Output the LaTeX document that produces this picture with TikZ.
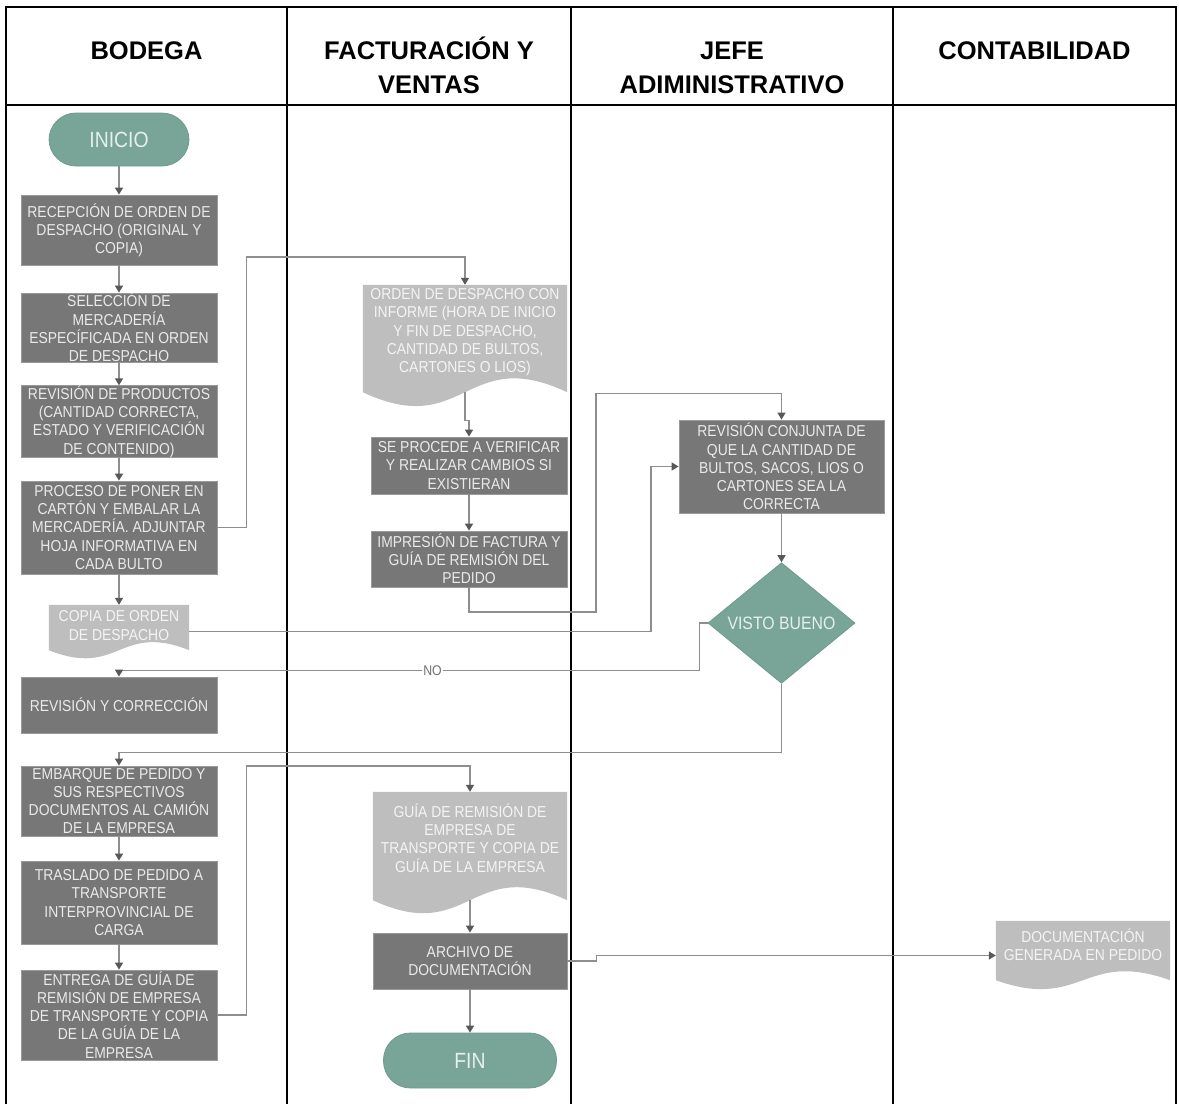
\documentclass[tikz,border=0pt]{standalone}
\usepackage{fontspec}
\setmainfont{Liberation Sans}
\newfontfamily\boxfont{Liberation Sans}[FakeStretch=0.88]
\usepackage{tikz}
\usetikzlibrary{shapes.geometric, arrows.meta, calc, backgrounds}

\definecolor{tealbox}{HTML}{78A597}
\definecolor{tealedge}{HTML}{6F9A8D}
\definecolor{tealtext}{HTML}{E6F0ED}
\definecolor{procgray}{HTML}{777777}
\definecolor{procedge}{HTML}{9A9A9A}
\definecolor{boxtext}{HTML}{EAEAEA}
\definecolor{docgray}{HTML}{BEBEBE}
\definecolor{doctext}{HTML}{F4F4F4}
\definecolor{linegray}{HTML}{8E8E8E}
\definecolor{tipgray}{HTML}{585858}
\definecolor{labelgray}{HTML}{707070}

\begin{document}
\begin{tikzpicture}[
    x=1pt, y=-1pt,
    lane/.style={line width=2.4pt, black},
    lanehead/.style={font=\fontsize{25.5}{34}\selectfont\bfseries, align=center, anchor=base, inner sep=0pt},
    proc/.style={draw=procedge, line width=0.8pt, fill=procgray, text=boxtext, font=\boxfont\fontsize{15.8}{18.2}\selectfont, align=center, inner sep=0pt, minimum width=196pt},
    term/.style={draw=tealedge, line width=0.8pt, fill=tealbox, text=tealtext, rounded corners=27pt, font=\boxfont\fontsize{22}{24}\selectfont, inner sep=0pt},
    docu/.style={text=doctext, font=\boxfont\fontsize{15.8}{18.2}\selectfont, align=center, inner sep=0pt},
    decide/.style={diamond, draw=tealedge, line width=0.8pt, fill=tealbox, text=tealtext, font=\boxfont\fontsize{18}{20}\selectfont, inner sep=0pt, minimum width=147pt, minimum height=112pt},
    flow/.style={draw=linegray, line width=1.4pt, -{Triangle[width=8pt,length=7pt,color=tipgray]}},
    nolbl/.style={fill=white, text=labelgray, font=\boxfont\fontsize{14}{16}\selectfont, inner sep=1pt}
]
\useasboundingbox (0,0) rectangle (1179,1104);

% lanes
\draw[lane] (6,1104) |- (1176,7) -- (1176,1104);
\draw[lane] (6,105) -- (1176,105);
\foreach \x in {287,571,893}
  \draw[lane] (\x,7) -- (\x,1104);

\node[lanehead] (hbodega) at (146.5,59) {BODEGA};
\node[lanehead] (hventas) at (429,93) {FACTURACIÓN Y\\VENTAS};
\node[lanehead] (hjefe) at (732,93) {JEFE\\ADIMINISTRATIVO};
\node[lanehead] (hconta) at (1034.5,59) {CONTABILIDAD};

% bodega
\node[term, minimum width=140pt, minimum height=53pt] (inicio) at (119,139.5) {INICIO};
\node[proc, minimum height=70pt] (recepcion) at (119,230) {RECEPCIÓN DE ORDEN DE\\DESPACHO (ORIGINAL Y\\COPIA)};
\node[proc, minimum height=69pt] (seleccion) at (119,327.5) {SELECCIÓN DE\\MERCADERÍA\\ESPECÍFICADA EN ORDEN\\DE DESPACHO};
\node[proc, minimum height=69pt] (revision) at (119,421.5) {REVISIÓN DE PRODUCTOS\\(CANTIDAD CORRECTA,\\ESTADO Y VERIFICACIÓN\\DE CONTENIDO)};
\node[proc, minimum height=93pt] (embalaje) at (119,527.5) {PROCESO DE PONER EN\\CARTÓN Y EMBALAR LA\\MERCADERÍA. ADJUNTAR\\HOJA INFORMATIVA EN\\CADA BULTO};
\node[docu, minimum width=140pt, minimum height=45pt, text depth=4pt] (copia) at (119,627.5) {COPIA DE ORDEN\\DE DESPACHO};
\node[proc, minimum height=56pt] (correccion) at (119,705) {REVISIÓN Y CORRECCIÓN};
\node[proc, minimum height=70pt] (embarque) at (119,801) {EMBARQUE DE PEDIDO Y\\SUS RESPECTIVOS\\DOCUMENTOS AL CAMIÓN\\DE LA EMPRESA};
\node[proc, minimum height=83pt] (traslado) at (119,902.5) {TRASLADO DE PEDIDO A\\TRANSPORTE\\INTERPROVINCIAL DE\\CARGA};
\node[proc, minimum height=90pt] (entrega) at (119,1015) {ENTREGA DE GUÍA DE\\REMISIÓN DE EMPRESA\\DE TRANSPORTE Y COPIA\\DE LA GUÍA DE LA\\EMPRESA};

% facturacion y ventas
\node[docu, minimum width=204pt, minimum height=107pt, text depth=16pt] (informe) at (465,338.5) {ORDEN DE DESPACHO CON\\INFORME (HORA DE INICIO\\Y FIN DE DESPACHO,\\CANTIDAD DE BULTOS,\\CARTONES O LIOS)};
\node[proc, minimum height=57pt] (verificar) at (469,465.5) {SE PROCEDE A VERIFICAR\\Y REALIZAR CAMBIOS SI\\EXISTIERAN};
\node[proc, minimum height=56pt] (impresion) at (469,559) {IMPRESIÓN DE FACTURA Y\\GUÍA DE REMISIÓN DEL\\PEDIDO};
\node[docu, minimum width=194pt, minimum height=108pt, text depth=16pt] (guia) at (470,846) {GUÍA DE REMISIÓN DE\\EMPRESA DE\\TRANSPORTE Y COPIA DE\\GUÍA DE LA EMPRESA};
\node[proc, minimum width=194pt, minimum height=56pt] (archivo) at (470,961) {ARCHIVO DE\\DOCUMENTACIÓN};
\node[term, minimum width=173pt, minimum height=55pt] (fin) at (470,1060.5) {FIN};

% jefe administrativo
\node[proc, minimum width=205pt, minimum height=93pt] (conjunta) at (781.5,466.5) {REVISIÓN CONJUNTA DE\\QUE LA CANTIDAD DE\\BULTOS, SACOS, LIOS O\\CARTONES SEA LA\\CORRECTA};
\node[decide] (visto) at (781.5,623) {VISTO BUENO};

% contabilidad
\node[docu, minimum width=174pt, minimum height=59pt, text depth=12pt] (docgen) at (1083,950.5) {DOCUMENTACIÓN\\GENERADA EN PEDIDO};

% document shapes
\begin{scope}[on background layer]
\foreach \d/\k in {copia/28, informe/48, guia/45, docgen/31}
  \fill[docgray] (\d.north west) -- (\d.south west)
    .. controls ($(\d.south)+(0,\k)$) and ($(\d.south)+(0,-\k)$) .. (\d.south east)
    -- (\d.north east) -- cycle;
\end{scope}

% connectors
\foreach \a/\b in {inicio/recepcion, recepcion/seleccion, seleccion/revision, revision/embalaje,
    embalaje/copia, embarque/traslado, traslado/entrega, verificar/impresion,
    guia/archivo, archivo/fin, conjunta/visto}
  \draw[flow] (\a) -- (\b);

\draw[flow] (embalaje.east) -- ++(29,0) |- ([yshift=28pt]informe.north) -- (informe.north);
\draw[flow] (informe.south) -- ++(0,28) -| (verificar.north);
\draw[flow] (impresion.south) |- (596,612) |- ([yshift=26pt]conjunta.north) -- (conjunta.north);
\draw[flow] ([yshift=-4pt]copia.east) -| (651,620) |- (conjunta.west);
\draw[flow] (visto.west) -- ++(-8,0) |- node[nolbl, pos=0.73] {NO} ([yshift=6pt]correccion.north) -- (correccion.north);
\draw[flow] (visto.south) |- ([yshift=13pt]embarque.north) -- (embarque.north);
\draw[flow] (entrega.east) -- ++(29,0) |- ([yshift=26pt]guia.north) -- (guia.north);
\draw[flow] (archivo.east) -- ++(29,0) |- ([yshift=-5pt]docgen.west);

\end{tikzpicture}
\end{document}
